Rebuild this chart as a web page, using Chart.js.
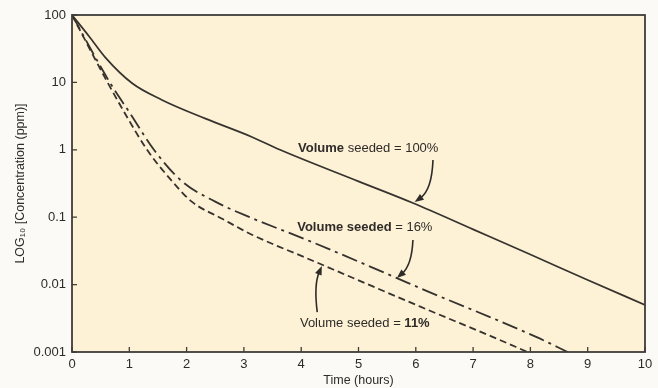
<!DOCTYPE html>
<html>
<head>
<meta charset="utf-8">
<script src="https://cdn.jsdelivr.net/npm/chart.js@4.4.1/dist/chart.umd.min.js"></script>
<style>
  html, body { margin: 0; padding: 0; background: #fbfaf7; }
  #wrap { position: relative; width: 658px; height: 388px; }
</style>
</head>
<body>
<div id="wrap"><canvas id="chart"></canvas></div>
<script>
// axis ticks
const hourTicks = [0, 1, 2, 3, 4, 5, 6, 7, 8, 9, 10];
const concTicks = [100, 10, 1, 0.1, 0.01, 0.001];
const concTickLabels = ["100", "10", "1", "0.1", "0.01", "0.001"];

// volume seeded = 100% (solid)
const fullHours = [0, 0.3, 0.58, 1.05, 1.57, 2.33, 3.14, 3.63, 5, 5.95, 7, 8, 9, 10];
const fullConc = [100, 48, 23.5, 9.7, 5.5, 2.9, 1.55, 1.0, 0.34, 0.162, 0.066, 0.028, 0.0117, 0.005];

// volume seeded = 16% (dash-dot)
const sixteenHours = [0, 0.66, 1.02, 1.43, 1.92, 2.5, 3.1, 4.1, 5.67, 6.07, 8.11, 8.65];
const sixteenConc = [100, 10, 3.4, 1.0, 0.34, 0.17, 0.1, 0.046, 0.0125, 0.0089, 0.00166, 0.001];

// volume seeded = 11% (dashed)
const elevenHours = [0, 0.62, 0.93, 1.31, 1.75, 2.09, 2.62, 3.14, 4.1, 6.08, 7.35, 7.95];
const elevenConc = [100, 10, 3.4, 1.0, 0.34, 0.17, 0.095, 0.055, 0.0246, 0.0047, 0.00166, 0.001];

// annotations (text pieces: [text, bold])
const noteParts = [
  [["Volume", true], [" seeded = 100%", false]],
  [["Volume seeded", true], [" = 16%", false]],
  [["Volume seeded = ", false], ["11%", true]]
];
const noteHours = [5.17, 5.11, 5.11];
const noteConc = [1.06, 0.0716, 0.0027];
const arrowFrom = [[6.30, 0.706], [5.95, 0.046], [4.28, 0.0039]];
const arrowBend = [[6.28, 0.254], [5.93, 0.0195], [4.22, 0.00986]];
const arrowTo = [[5.98, 0.168], [5.67, 0.0125], [4.36, 0.0189]];

const ink = "#36322d";
const textInk = "#2e2b28";
const fontFamily = "'Liberation Sans', Arial, sans-serif";

const toPoints = (xs, ys) => xs.map((x, i) => ({ x, y: ys[i] }));

const plotFrame = {
  id: "plotFrame",
  beforeDraw(chart) {
    const { ctx, chartArea: a } = chart;
    ctx.save();
    ctx.fillStyle = "#fdf1d6";
    ctx.fillRect(a.left, a.top, a.right - a.left, a.bottom - a.top);
    ctx.restore();
  },
  afterDraw(chart) {
    const { ctx, chartArea: a, scales } = chart;
    ctx.save();
    ctx.strokeStyle = "#3f3c39";
    ctx.lineWidth = 1.8;
    ctx.strokeRect(a.left, a.top, a.right - a.left, a.bottom - a.top);
    ctx.lineWidth = 1.3;
    ctx.beginPath();
    scales.x.ticks.forEach(t => {
      const px = scales.x.getPixelForValue(t.value);
      ctx.moveTo(px, a.bottom);
      ctx.lineTo(px, a.bottom - 5);
    });
    scales.y.ticks.forEach(t => {
      const py = scales.y.getPixelForValue(t.value);
      ctx.moveTo(a.left, py);
      ctx.lineTo(a.left + 5, py);
    });
    ctx.stroke();
    ctx.restore();
  }
};

const notes = {
  id: "notes",
  afterDatasetsDraw(chart) {
    const { ctx, scales } = chart;
    const px = p => [scales.x.getPixelForValue(p[0]), scales.y.getPixelForValue(p[1])];
    ctx.save();
    ctx.fillStyle = textInk;
    ctx.textBaseline = "middle";
    noteParts.forEach((parts, i) => {
      const fonts = parts.map(([, bold]) => (bold ? "bold " : "") + "13px " + fontFamily);
      const widths = parts.map(([text], j) => { ctx.font = fonts[j]; return ctx.measureText(text).width; });
      const total = widths.reduce((s, w) => s + w, 0);
      let x = scales.x.getPixelForValue(noteHours[i]) - total / 2;
      const y = scales.y.getPixelForValue(noteConc[i]);
      parts.forEach(([text], j) => {
        ctx.font = fonts[j];
        ctx.fillText(text, x, y);
        x += widths[j];
      });
    });
    ctx.strokeStyle = textInk;
    ctx.lineWidth = 1.6;
    arrowFrom.forEach((from, i) => {
      const [x0, y0] = px(from);
      const [cx, cy] = px(arrowBend[i]);
      const [x1, y1] = px(arrowTo[i]);
      const ang = Math.atan2(y1 - cy, x1 - cx);
      const back = 7;
      const ex = x1 - back * Math.cos(ang), ey = y1 - back * Math.sin(ang);
      ctx.beginPath();
      ctx.moveTo(x0, y0);
      ctx.quadraticCurveTo(cx, cy, ex, ey);
      ctx.stroke();
      ctx.beginPath();
      ctx.moveTo(x1, y1);
      ctx.lineTo(x1 - 9 * Math.cos(ang) + 3.5 * Math.sin(ang), y1 - 9 * Math.sin(ang) - 3.5 * Math.cos(ang));
      ctx.lineTo(x1 - 9 * Math.cos(ang) - 3.5 * Math.sin(ang), y1 - 9 * Math.sin(ang) + 3.5 * Math.cos(ang));
      ctx.closePath();
      ctx.fill();
    });
    ctx.restore();
  }
};

new Chart(document.getElementById("chart"), {
  type: "line",
  data: {
    datasets: [
      {
        label: "Volume seeded = 100%",
        data: toPoints(fullHours, fullConc),
        borderColor: ink,
        borderWidth: 1.7,
        cubicInterpolationMode: "monotone"
      },
      {
        label: "Volume seeded = 16%",
        data: toPoints(sixteenHours, sixteenConc),
        borderColor: ink,
        borderWidth: 1.8,
        borderDash: [16, 5, 3, 5],
        cubicInterpolationMode: "monotone"
      },
      {
        label: "Volume seeded = 11%",
        data: toPoints(elevenHours, elevenConc),
        borderColor: ink,
        borderWidth: 1.8,
        borderDash: [7, 4],
        cubicInterpolationMode: "monotone"
      }
    ]
  },
  options: {
    responsive: true,
    maintainAspectRatio: false,
    animation: false,
    elements: { point: { radius: 0 } },
    layout: { padding: { top: 15, right: 13, bottom: 0, left: 0 } },
    plugins: {
      legend: { display: false },
      tooltip: { enabled: false }
    },
    scales: {
      x: {
        type: "linear",
        min: 0,
        max: 10,
        afterBuildTicks: s => { s.ticks = hourTicks.map(value => ({ value })); },
        afterFit: s => { s.height = 36; },
        grid: { display: false, drawTicks: false },
        border: { display: false },
        ticks: {
          color: textInk,
          padding: 5,
          maxRotation: 0,
          font: { family: fontFamily, size: 13 }
        },
        title: {
          display: true,
          text: "Time (hours)",
          color: textInk,
          padding: { top: 0, bottom: 0 },
          font: { family: fontFamily, size: 12.5 }
        }
      },
      y: {
        type: "logarithmic",
        min: 0.001,
        max: 100,
        afterBuildTicks: s => { s.ticks = concTicks.map(value => ({ value })); },
        afterFit: s => { s.width = 72; },
        grid: { display: false, drawTicks: false },
        border: { display: false },
        ticks: {
          color: textInk,
          padding: 6,
          font: { family: fontFamily, size: 13 },
          callback: v => concTickLabels[concTicks.indexOf(v)] ?? ""
        },
        title: {
          display: true,
          text: "LOG₁₀ [Concentration (ppm)]",
          color: textInk,
          padding: { top: 13, bottom: 0 },
          font: { family: fontFamily, size: 12.5 }
        }
      }
    }
  },
  plugins: [plotFrame, notes]
});
</script>
</body>
</html>
